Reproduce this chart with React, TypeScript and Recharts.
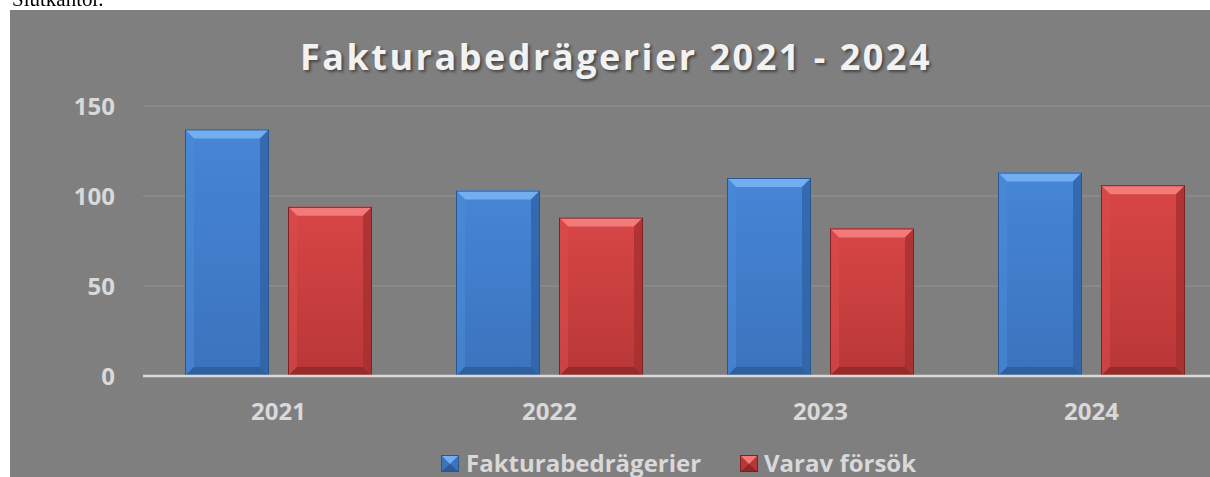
import { BarChart, Bar, XAxis, YAxis, CartesianGrid, Legend } from 'recharts';

// values
const years = ['2021', '2022', '2023', '2024'];
const fakturabedragerier = [137, 103, 110, 113];
const varavForsok = [94, 88, 82, 106];
const yTicks = [0, 50, 100, 150];

const data = years.map((year, i) => ({
  year,
  fakturabedragerier: fakturabedragerier[i],
  varavForsok: varavForsok[i],
}));

type Palette = {
  light: string;
  dark: string;
  top: string;
  left: string;
  right: string;
  bottom: string;
  edge: string;
};

const bluePal: Palette = {
  light: '#4686d6',
  dark: '#3b73bd',
  top: '#72aef0',
  left: '#4a8ad8',
  right: '#3163a6',
  bottom: '#2d5a96',
  edge: '#2a568f',
};

const redPal: Palette = {
  light: '#d84646',
  dark: '#b93737',
  top: '#f27a7a',
  left: '#d84b4b',
  right: '#a62f2f',
  bottom: '#8e2828',
  edge: '#7c2222',
};

const font = '"Open Sans", sans-serif';
const textColor = '#d9d9d9';

// bar with bevelled edges like the office "3D" style
const bevelBar = (props: any, pal: Palette, key: string) => {
  const { x, y, width, height, index } = props;
  if (!height || height <= 0) return <g />;
  const b = Math.min(9, width / 4, height / 2);
  const id = `${key}-${index}`;
  const x2 = x + width;
  const y2 = y + height;
  return (
    <g>
      <defs>
        <linearGradient id={id} x1="0" y1="0" x2="0" y2="1">
          <stop offset="0%" stopColor={pal.light} />
          <stop offset="100%" stopColor={pal.dark} />
        </linearGradient>
      </defs>
      <rect x={x} y={y} width={width} height={height} fill={`url(#${id})`} />
      <polygon points={`${x},${y} ${x2},${y} ${x2 - b},${y + b} ${x + b},${y + b}`} fill={pal.top} />
      <polygon points={`${x},${y} ${x + b},${y + b} ${x + b},${y2 - b} ${x},${y2}`} fill={pal.left} opacity={0.6} />
      <polygon points={`${x2},${y} ${x2 - b},${y + b} ${x2 - b},${y2 - b} ${x2},${y2}`} fill={pal.right} opacity={0.8} />
      <polygon points={`${x},${y2} ${x + b},${y2 - b} ${x2 - b},${y2 - b} ${x2},${y2}`} fill={pal.bottom} opacity={0.8} />
      <rect x={x + 0.5} y={y + 0.5} width={width - 1} height={height - 1} fill="none" stroke={pal.edge} strokeWidth={1} />
    </g>
  );
};

const Marker = ({ pal }: { pal: Palette }) => (
  <svg width={18} height={17} style={{ display: 'block' }}>
    <rect x={0} y={0} width={18} height={17} fill={pal.dark} />
    <polygon points="0,0 18,0 9,9" fill={pal.top} />
    <polygon points="0,17 18,17 9,9" fill={pal.bottom} />
    <rect x={0.5} y={0.5} width={17} height={16} fill="none" stroke={pal.edge} />
  </svg>
);

const renderLegend = () => (
  <div style={{ display: 'flex', alignItems: 'center', height: 26, fontFamily: font, fontWeight: 700, fontSize: 24, lineHeight: '24px', color: textColor }}>
    <div style={{ display: 'flex', alignItems: 'center', width: 299 }}>
      <Marker pal={bluePal} />
      <span style={{ marginLeft: 7 }}>Fakturabedrägerier</span>
    </div>
    <div style={{ display: 'flex', alignItems: 'center' }}>
      <Marker pal={redPal} />
      <span style={{ marginLeft: 6 }}>Varav försök</span>
    </div>
  </div>
);

const App = () => {
  return (
    <>
      <div
        style={{
          position: 'fixed',
          top: -11,
          left: 12,
          fontFamily: '"Liberation Serif", serif',
          fontSize: 21,
          lineHeight: '21px',
          whiteSpace: 'nowrap',
          color: '#000',
        }}
      >
        Slutkantor.
      </div>
      <div
        style={{
          position: 'fixed',
          left: 10,
          top: 10,
          width: 1200,
          height: 467,
          overflow: 'hidden',
          background: '#7f7f7f',
        }}
      >
        <div
          style={{
            position: 'absolute',
            top: 29,
            left: 0,
            width: 1212,
            textAlign: 'center',
            fontFamily: font,
            fontWeight: 700,
            fontSize: 36,
            lineHeight: '36px',
            letterSpacing: 2.5,
            color: '#f2f2f2',
            textShadow: '2px 2px 3px rgba(0,0,0,0.45)',
            whiteSpace: 'nowrap',
            zIndex: 1,
          }}
        >
          Fakturabedrägerier 2021 - 2024
        </div>
        <BarChart
          width={1220}
          height={466}
          data={data}
          margin={{ top: 96, right: 3, bottom: 0, left: 0 }}
          barSize={84}
          barGap={19}
        >
          <CartesianGrid vertical={false} stroke="#8c8c8c" strokeWidth={1.5} />
          <XAxis
            dataKey="year"
            height={74}
            tickLine={false}
            tickSize={0}
            tickMargin={27}
            axisLine={{ stroke: textColor, strokeWidth: 2.5 }}
            tick={{ fill: textColor, fontSize: 24, fontWeight: 700, fontFamily: font }}
          />
          <YAxis
            width={133}
            domain={[0, 150]}
            ticks={yTicks}
            axisLine={false}
            tickLine={false}
            tickSize={0}
            tickMargin={28}
            tick={{ fill: textColor, fontSize: 24, fontWeight: 700, fontFamily: font }}
          />
          <Legend
            verticalAlign="bottom"
            content={renderLegend}
            wrapperStyle={{ left: 431, bottom: 0, width: 520, height: 26 }}
          />
          <Bar
            dataKey="fakturabedragerier"
            name="Fakturabedrägerier"
            fill={bluePal.light}
            isAnimationActive={false}
            shape={(p: any) => bevelBar(p, bluePal, 'blue')}
          />
          <Bar
            dataKey="varavForsok"
            name="Varav försök"
            fill={redPal.light}
            isAnimationActive={false}
            shape={(p: any) => bevelBar(p, redPal, 'red')}
          />
        </BarChart>
      </div>
    </>
  );
};

export default App;
